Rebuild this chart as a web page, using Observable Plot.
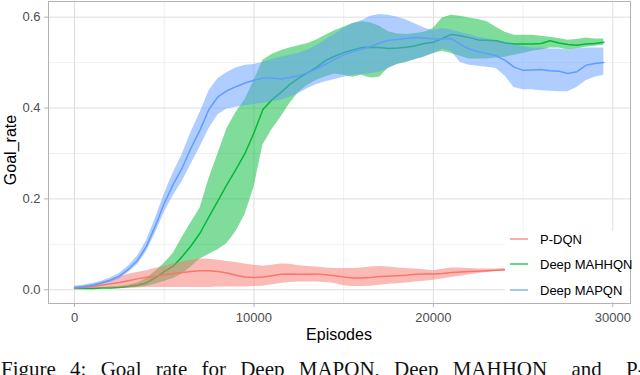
<!DOCTYPE html>
<html><head><meta charset="utf-8">
<script src="https://cdn.jsdelivr.net/npm/d3@7"></script>
<script src="https://cdn.jsdelivr.net/npm/@observablehq/plot@0.6"></script>
<style>
html,body{margin:0;padding:0;overflow:hidden;background:#fff;width:640px;height:375px;}
#wrap{position:relative;width:640px;height:375px;overflow:hidden;}
#chart{position:absolute;left:0;top:0;}
#legend{position:absolute;left:505px;top:231px;width:124px;height:71px;background:#fff;font:13px "Liberation Sans",Arial,sans-serif;color:#000;}
.row{position:absolute;left:0;height:20px;display:flex;align-items:center;white-space:nowrap;}
.key{width:18px;height:2px;margin-left:5px;margin-right:12px;opacity:0.6}
.atitle{position:absolute;font:16px/16px "Liberation Sans",Arial,sans-serif;color:#000;white-space:nowrap;transform:translate(-50%,-50%);}
#ytitle{transform:translate(-50%,-50%) rotate(-90deg);}
#caption{position:absolute;left:1px;top:359px;font:21px/21px "Liberation Serif","DejaVu Serif",serif;word-spacing:9px;white-space:nowrap;color:#111;}
</style></head>
<body><div id="wrap"><div id="chart"></div><div id="legend"></div>
<div class="atitle" id="xtitle" style="left:339px;top:335px">Episodes</div>
<div class="atitle" id="ytitle" style="left:11px;top:150px">Goal_rate</div>
<div id="caption">Figure 4: Goal rate for Deep MAPQN, Deep MAHHQN<span style="word-spacing:19px"> and P-DQN.</span></div></div>
<script>
// ---- data ----
const episodes = [0,500,1000,1500,2000,2500,3000,3500,4000,4500,5000,5500,6000,6500,7000,7500,8000,8500,9000,9500,
  10000,10500,11000,11500,12000,12500,13000,13500,14000,14500,15000,15500,16000,16500,17000,17500,18000,18500,19000,19500,
  20000,20500,21000,21500,22000,22500,23000,23500,24000,24500,25000,25500,26000,26500,27000,27500,28000,28500,29000,29500];

const seriesNames = ["P-DQN","Deep MAHHQN","Deep MAPQN"];
const seriesColors = ["#F8766D","#00BA38","#619CFF"];

const xTicks = [0,10000,20000,30000];
const xMinorTicks = [5000,15000,25000];
const yTicks = [0,0.2,0.4,0.6];
const yMinorTicks = [0.1,0.3,0.5];

// Deep MAPQN (blue)
const mapqnMean = [0.005,0.007,0.010,0.015,0.021,0.030,0.045,0.064,0.095,0.140,
  0.190,0.232,0.268,0.312,0.352,0.398,0.425,0.438,0.447,0.455,
  0.461,0.466,0.466,0.464,0.467,0.471,0.478,0.486,0.497,0.507,
  0.517,0.524,0.530,0.535,0.543,0.549,0.551,0.553,0.555,0.554,
  0.552,0.552,0.553,0.540,0.530,0.524,0.520,0.515,0.505,0.490,
  0.483,0.484,0.485,0.482,0.481,0.476,0.480,0.494,0.498,0.500];
const mapqnLo = [0.002,0.004,0.006,0.011,0.016,0.024,0.038,0.055,0.083,0.124,
  0.170,0.207,0.238,0.277,0.314,0.355,0.385,0.398,0.402,0.405,
  0.408,0.410,0.414,0.417,0.424,0.432,0.443,0.452,0.458,0.463,
  0.468,0.472,0.474,0.476,0.479,0.487,0.497,0.502,0.507,0.512,
  0.520,0.530,0.525,0.500,0.494,0.492,0.490,0.487,0.470,0.445,
  0.440,0.440,0.438,0.437,0.436,0.436,0.445,0.460,0.468,0.472];
const mapqnHi = [0.008,0.010,0.014,0.019,0.026,0.036,0.052,0.073,0.107,0.156,
  0.210,0.257,0.298,0.347,0.390,0.438,0.465,0.478,0.488,0.494,
  0.496,0.500,0.507,0.512,0.516,0.520,0.528,0.537,0.550,0.562,
  0.575,0.585,0.592,0.602,0.606,0.604,0.600,0.594,0.585,0.576,
  0.570,0.575,0.572,0.566,0.562,0.556,0.552,0.548,0.545,0.540,
  0.535,0.532,0.532,0.530,0.530,0.528,0.530,0.532,0.532,0.532];

// Deep MAHHQN (green)
const mahhqnMean = [0.003,0.003,0.003,0.004,0.004,0.005,0.007,0.010,0.015,0.026,
  0.040,0.052,0.073,0.097,0.125,0.161,0.196,0.232,0.265,0.300,
  0.345,0.397,0.418,0.434,0.452,0.466,0.478,0.490,0.505,0.514,
  0.522,0.528,0.533,0.534,0.533,0.531,0.532,0.534,0.537,0.542,
  0.545,0.553,0.562,0.559,0.555,0.550,0.549,0.548,0.543,0.541,
  0.541,0.541,0.542,0.548,0.543,0.540,0.538,0.541,0.542,0.545];
const mahhqnLo = [0.002,0.002,0.002,0.003,0.003,0.003,0.004,0.005,0.007,0.012,
  0.018,0.025,0.035,0.050,0.068,0.078,0.088,0.102,0.128,0.165,
  0.225,0.318,0.352,0.380,0.410,0.435,0.450,0.461,0.469,0.475,
  0.472,0.468,0.472,0.466,0.468,0.488,0.496,0.500,0.507,0.513,
  0.520,0.525,0.520,0.514,0.508,0.508,0.508,0.510,0.512,0.516,
  0.520,0.525,0.528,0.532,0.532,0.528,0.530,0.534,0.536,0.538];
const mahhqnHi = [0.004,0.004,0.004,0.005,0.006,0.007,0.010,0.015,0.024,0.040,
  0.058,0.080,0.115,0.148,0.180,0.245,0.300,0.355,0.390,0.418,
  0.460,0.505,0.518,0.526,0.532,0.537,0.542,0.550,0.560,0.570,
  0.578,0.586,0.590,0.588,0.580,0.568,0.563,0.562,0.564,0.567,
  0.575,0.598,0.604,0.602,0.598,0.595,0.590,0.578,0.567,0.560,
  0.560,0.560,0.558,0.556,0.553,0.549,0.551,0.554,0.552,0.552];

// P-DQN (red), episodes 0..24000
const pdqnMean = [0.004,0.005,0.007,0.010,0.013,0.016,0.020,0.024,0.027,0.030,
  0.033,0.036,0.038,0.040,0.042,0.042,0.040,0.037,0.032,0.028,
  0.027,0.028,0.031,0.034,0.035,0.034,0.034,0.035,0.033,0.031,
  0.028,0.026,0.026,0.027,0.029,0.030,0.031,0.032,0.034,0.035,
  0.035,0.036,0.038,0.039,0.040,0.041,0.042,0.043,0.044];
const pdqnLo = [0.003,0.003,0.003,0.004,0.004,0.004,0.004,0.004,0.005,0.005,
  0.005,0.005,0.005,0.005,0.005,0.005,0.006,0.006,0.006,0.006,
  0.007,0.008,0.011,0.014,0.016,0.017,0.017,0.017,0.016,0.014,
  0.009,0.007,0.007,0.008,0.010,0.012,0.013,0.015,0.017,0.019,
  0.021,0.024,0.027,0.030,0.033,0.036,0.038,0.040,0.041];
const pdqnHi = [0.005,0.007,0.011,0.016,0.022,0.028,0.034,0.038,0.042,0.047,
  0.052,0.057,0.061,0.065,0.068,0.067,0.065,0.062,0.060,0.057,
  0.054,0.052,0.054,0.057,0.056,0.053,0.051,0.050,0.048,0.047,
  0.047,0.047,0.048,0.050,0.051,0.050,0.048,0.047,0.046,0.044,
  0.042,0.045,0.048,0.048,0.047,0.046,0.046,0.046,0.047];

// ---- build tables ----
const mk = (m, lo, hi) => m.map((v, i) => ({ep: episodes[i], mean: v, lo: lo[i], hi: hi[i]}));
const red = mk(pdqnMean, pdqnLo, pdqnHi);
const green = mk(mahhqnMean, mahhqnLo, mahhqnHi);
const blue = mk(mapqnMean, mapqnLo, mapqnHi);
const [cRed, cGreen, cBlue] = seriesColors;

const layer = (data, c) => [
  Plot.areaY(data, {x: "ep", y1: "lo", y2: "hi", fill: c, fillOpacity: 0.5}),
  Plot.line(data, {x: "ep", y: "mean", stroke: c, strokeWidth: 1.5})
];

const chart = Plot.plot({
  width: 640, height: 345,
  marginLeft: 48, marginRight: 10, marginTop: 1, marginBottom: 42,
  style: {fontFamily: '"Liberation Sans", Arial, sans-serif', fontSize: "13px", background: "#fff", overflow: "visible"},
  x: {domain: [-1449, 30987]},
  y: {domain: [-0.0302, 0.6345]},
  marks: [
    Plot.gridX(xMinorTicks, {stroke: "#ececec", strokeOpacity: 1, strokeWidth: 0.8}),
    Plot.gridY(yMinorTicks, {stroke: "#ececec", strokeOpacity: 1, strokeWidth: 0.8}),
    Plot.gridX(xTicks, {stroke: "#dedede", strokeOpacity: 1, strokeWidth: 1}),
    Plot.gridY(yTicks, {stroke: "#dedede", strokeOpacity: 1, strokeWidth: 1}),
    ...layer(green, cGreen),
    ...layer(red, cRed),
    ...layer(blue, cBlue),
    Plot.frame({stroke: "#b3b3b3"}),
    Plot.axisX(xTicks, {tickSize: 4, tickPadding: 5, stroke: "#b3b3b3", fill: "#4d4d4d", tickFormat: d3.format("d"), label: null}),
    Plot.axisY(yTicks, {tickSize: 4, tickPadding: 4, stroke: "#b3b3b3", fill: "#4d4d4d", tickFormat: d3.format(".1f"), label: null})
  ]
});
document.getElementById("chart").appendChild(chart);

// legend
const leg = document.getElementById("legend");
const rowTops = [-2, 23, 49];
seriesNames.forEach((name, i) => {
  const row = document.createElement("div");
  row.className = "row";
  row.style.top = rowTops[i] + "px";
  const key = document.createElement("div");
  key.className = "key";
  key.style.background = seriesColors[i];
  const label = document.createElement("span");
  label.textContent = name;
  row.appendChild(key); row.appendChild(label);
  leg.appendChild(row);
});
</script>
</body></html>
